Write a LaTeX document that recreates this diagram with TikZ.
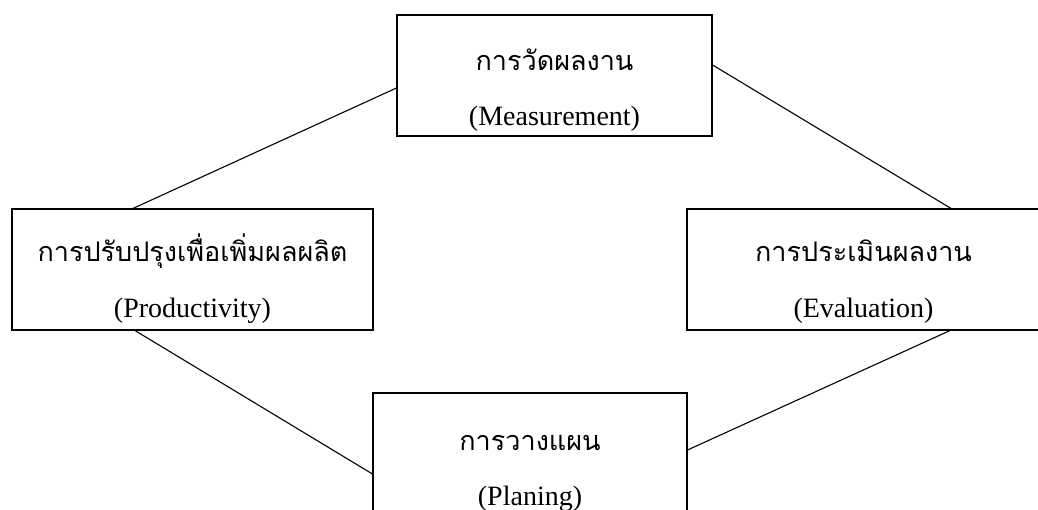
\documentclass[tikz,border=0pt]{standalone}
\usepackage{fontspec}
\setmainfont{Liberation Serif}
\newfontfamily\thaifont[Script=Thai]{Loma}
\usepackage{tikz}
\usetikzlibrary{positioning}

\tikzset{
  stage/.style={draw, rectangle, line width=1.1pt, inner sep=0pt, minimum height=121pt},
  thaitext/.style={anchor=base, inner sep=0pt, font=\thaifont\fontsize{27}{30}\selectfont},
  engtext/.style={anchor=base, inner sep=0pt, font=\fontsize{28}{32}\selectfont},
  link/.style={line width=1.1pt}
}

\begin{document}
\begin{tikzpicture}[x=1pt, y=1pt]

    \useasboundingbox (0,0) rectangle (1038,510);
    \clip (0,0) rectangle (1038,510);

    \node[stage, minimum width=315pt] (meas) at (554.5, 434.5) {};
    \node[stage, minimum width=361pt] (prod) at (192.5, 240.5) {};
    \node[stage, minimum width=353pt] (eval) at (863.5, 240.5) {};
    \node[stage, minimum width=314pt] (plan) at (530, 56.5)    {};

    \node[thaitext] (measTH) at ([yshift=-56pt]meas.north)  {การวัดผลงาน};
    \node[engtext]  (measEN) at ([yshift=-111pt]meas.north) {(Measurement)};
    \node[thaitext] (prodTH) at ([yshift=-53pt]prod.north)  {การปรับปรุงเพื่อเพิ่มผลผลิต};
    \node[engtext]  (prodEN) at ([yshift=-109pt]prod.north) {(Productivity)};
    \node[thaitext] (evalTH) at ([yshift=-53pt]eval.north)  {การประเมินผลงาน};
    \node[engtext]  (evalEN) at ([yshift=-109pt]eval.north) {(Evaluation)};
    \node[thaitext] (planTH) at ([yshift=-58pt]plan.north)  {การวางแผน};
    \node[engtext]  (planEN) at ([yshift=-113pt]plan.north) {(Planing)};

    \draw[link] ([yshift=-12.5pt]meas.west) -- ([xshift=-59.5pt]prod.north);
    \draw[link] ([yshift=10.5pt]meas.east)  -- ([xshift=87.5pt]eval.north);
    \draw[link] ([xshift=-57.5pt]prod.south) -- ([yshift=-20.5pt]plan.west);
    \draw[link] ([xshift=86.5pt]eval.south)  -- ([yshift=3.5pt]plan.east);
  \end{tikzpicture}
\end{document}
